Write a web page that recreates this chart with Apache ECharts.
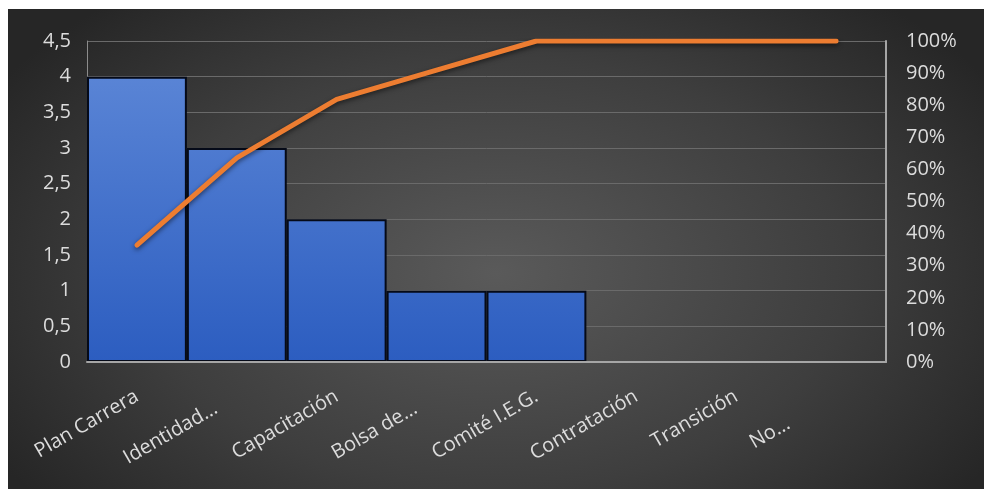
<!DOCTYPE html>
<html>
<head>
<meta charset="utf-8">
<script src="https://cdn.jsdelivr.net/npm/echarts@6/dist/echarts.min.js"></script>
<style>
html,body{margin:0;padding:0;background:#ffffff;width:984px;height:489px;overflow:hidden;}
#bg{position:absolute;left:8px;top:9px;width:976px;height:480px;
background:radial-gradient(ellipse 60% 75% at 50% 55%, #5a5a5a 0%, #3e3e3e 60%, #262626 100%);}
#chart{position:absolute;left:0;top:0;width:984px;height:489px;}
</style>
</head>
<body>
<div id="bg"></div>
<div id="chart"></div>
<script>
var categories = ['Plan Carrera', 'Identidad...', 'Capacitación', 'Bolsa de...', 'Comité I.E.G.', 'Contratación', 'Transición', 'No...'];
var counts = [4, 3, 2, 1, 1, 0, 0, 0];
var cumulativePct = [0.364, 0.636, 0.818, 0.909, 1, 1, 1, 1];
var leftTicks = [0, 0.5, 1, 1.5, 2, 2.5, 3, 3.5, 4, 4.5];
var rightTicks = [0, 0.1, 0.2, 0.3, 0.4, 0.5, 0.6, 0.7, 0.8, 0.9, 1];
var labelShift = [0, 24, 0, 24, 0, 0, 0, 55];

var chart = echarts.init(document.getElementById('chart'), null, {renderer: 'canvas'});
var font = '"Open Sans", "Noto Sans", sans-serif';
var txt = '#dcdcdc';

chart.setOption({
  backgroundColor: 'transparent',
  animation: false,
  grid: {left: 87, right: 98, top: 41, bottom: 127, containLabel: false},
  xAxis: {
    type: 'category',
    z: 5,
    data: categories.map(function (c, i) {
      return {value: c, textStyle: {padding: [0, labelShift[i], 0, 0]}};
    }),
    boundaryGap: true,
    axisLine: {show: true, lineStyle: {color: '#a6a6a6', width: 2}},
    axisTick: {show: false},
    axisLabel: {interval: 0, rotate: 30, color: txt, fontSize: 20, fontFamily: font, margin: 33}
  },
  yAxis: [{
    type: 'value', min: 0, max: 4.5, interval: 0.5,
    axisLine: {show: true, lineStyle: {color: '#8c8c8c', width: 1}},
    axisTick: {show: false},
    splitLine: {show: true, lineStyle: {color: '#6a6a6a', width: 1}},
    axisLabel: {color: txt, fontSize: 20, fontFamily: font, margin: 16,
      formatter: function (v) { return String(v).replace('.', ','); }}
  }, {
    type: 'value', min: 0, max: 1, interval: 0.1,
    position: 'right',
    axisLine: {show: true, lineStyle: {color: '#a6a6a6', width: 2}},
    axisTick: {show: false},
    splitLine: {show: false},
    axisLabel: {color: txt, fontSize: 20, fontFamily: font, margin: 20,
      formatter: function (v) { return Math.round(v * 100) + '%'; }}
  }],
  series: [{
    type: 'bar',
    data: counts,
    barCategoryGap: '0%',
    itemStyle: {
      color: new echarts.graphic.LinearGradient(0, 41, 0, 362, [
        {offset: 0, color: '#5f89d8'},
        {offset: 1, color: '#2c5dc0'}
      ], true),
      borderColor: '#050a18',
      borderWidth: 2
    }
  }, {
    type: 'line',
    yAxisIndex: 1,
    data: cumulativePct,
    symbol: 'none',
    z: 6,
    lineStyle: {color: '#ed7d31', width: 5, cap: 'round', join: 'round',
      shadowColor: 'rgba(0,0,0,0.55)', shadowBlur: 5, shadowOffsetY: 2}
  }]
});
</script>
</body>
</html>
